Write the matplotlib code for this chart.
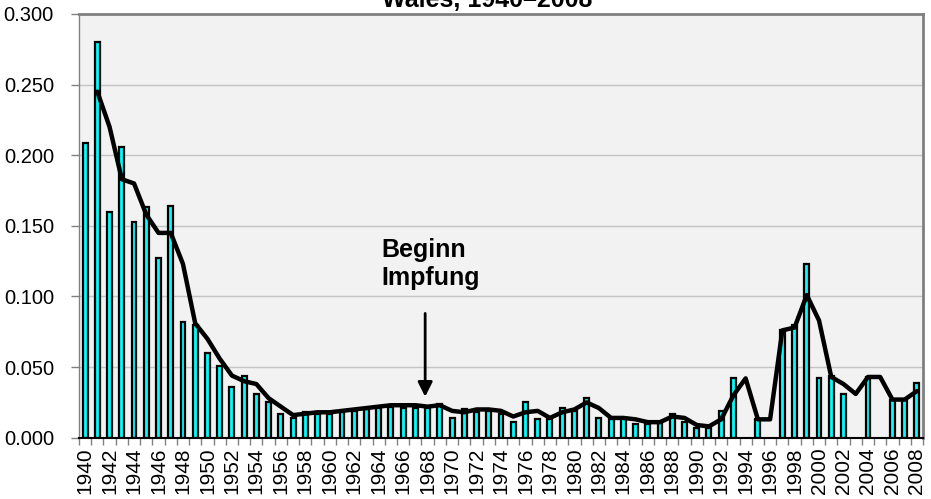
import numpy as np
import matplotlib
matplotlib.use("Agg")
import matplotlib.pyplot as plt
from matplotlib.ticker import FormatStrFormatter, FixedLocator

plt.rcParams['font.family'] = ['Liberation Sans', 'DejaVu Sans']

# ---- data -------------------------------------------------------------
years = list(range(1940, 2009))

# yearly rate (bars); None = no value reported
rate = [0.209, 0.280, 0.160, 0.206, 0.153, 0.163, 0.127, 0.164, 0.082, 0.080,
        0.060, 0.051, 0.036, 0.044, 0.031, 0.025, 0.017, 0.014, 0.018, 0.017,
        0.017, 0.018, 0.019, 0.020, 0.021, 0.022, 0.021, 0.021, 0.021, 0.024,
        0.014, 0.020, 0.018, 0.019, 0.017, 0.011, 0.025, 0.013, 0.013, 0.021,
        0.019, 0.028, 0.014, 0.013, 0.014, 0.010, 0.010, 0.011, 0.017, 0.011,
        0.007, 0.007, 0.019, 0.042, None, 0.013, None, 0.076, 0.080, 0.123,
        0.042, 0.044, 0.031, None, 0.043, None, 0.027, 0.027, 0.039]

# smoothed line (starts 1941)
line_years = list(range(1941, 2009))
smooth = [0.245, 0.220, 0.183, 0.180, 0.158, 0.145, 0.145, 0.123, 0.081,
          0.070, 0.056, 0.044, 0.040, 0.038, 0.028, 0.022, 0.016, 0.017, 0.018,
          0.018, 0.019, 0.020, 0.021, 0.022, 0.023, 0.023, 0.023, 0.022, 0.023,
          0.019, 0.018, 0.020, 0.020, 0.019, 0.015, 0.018, 0.019, 0.014, 0.018,
          0.020, 0.025, 0.021, 0.014, 0.014, 0.013, 0.011, 0.011, 0.015, 0.014,
          0.009, 0.008, 0.013, 0.030, 0.042, 0.013, 0.013, 0.076, 0.078, 0.101,
          0.083, 0.043, 0.038, 0.031, 0.043, 0.043, 0.027, 0.027, 0.033]

tick_years = years[::2]
title = "Wales, 1940\u20132008"
note = "Beginn\nImpfung"
note_year = 1968

# ---- figure -----------------------------------------------------------
W, H = 931, 499
fig = plt.figure(figsize=(W / 100, H / 100), dpi=100)
ax = fig.add_axes([79 / W, 1 - 437.7 / H, (923 - 79) / W, (437.7 - 14) / H])
ax.set_facecolor('#F2F2F2')

idx = {y: i for i, y in enumerate(years)}
bx = [idx[y] for y, v in zip(years, rate) if v is not None]
bv = [v for v in rate if v is not None]
ax.bar(bx, bv, width=0.40, color='#00FFFF', edgecolor='black',
       linewidth=1.6, zorder=2)

lx = [idx[y] for y in line_years]
ax.plot(lx, smooth, color='black', lw=3.2, solid_joinstyle='round',
        solid_capstyle='round', zorder=3)

ax.set_xlim(-0.5, len(years) - 0.5)
ax.set_ylim(0, 0.3)
ax.set_yticks(np.arange(0, 0.3001, 0.05))
ax.yaxis.set_major_formatter(FormatStrFormatter('%.3f'))
ax.set_axisbelow(True)
ax.yaxis.grid(True, color='#C4C4C4', lw=1.0, zorder=0)

ax.set_xticks([idx[y] for y in tick_years])
ax.set_xticklabels([str(y) for y in tick_years], rotation=90)
ax.xaxis.set_minor_locator(FixedLocator(np.arange(-0.5, len(years), 1.0)))
ax.tick_params(axis='x', which='major', length=0, pad=7, labelsize=15)
ax.tick_params(axis='x', which='minor', length=5, width=1, color='#808080')
ax.tick_params(axis='y', length=6, width=1, color='#808080', pad=12,
               labelsize=14.5)

for s in ['top', 'right']:
    ax.spines[s].set_color('#808080')
    ax.spines[s].set_linewidth(2)
ax.spines['left'].set_color('#808080')
ax.spines['left'].set_linewidth(1)
ax.spines['bottom'].set_color('black')
ax.spines['bottom'].set_linewidth(1.5)

# annotation
xi = idx[note_year]
ax.annotate('', xy=(xi - 0.2, 0.029), xytext=(xi - 0.2, 0.088),
            arrowprops=dict(arrowstyle='-|>', lw=2, color='black',
                            mutation_scale=22, shrinkA=0, shrinkB=0),
            zorder=4)
ax.text(24.25, 0.1415, note, ha='left', va='top', fontsize=18,
        fontweight='bold', linespacing=1.2, zorder=4)

fig.text(487 / W, 1 - 7 / H, title, ha='center', va='baseline',
         fontsize=18, fontweight='bold')

fig.savefig('out.png', dpi=100)
